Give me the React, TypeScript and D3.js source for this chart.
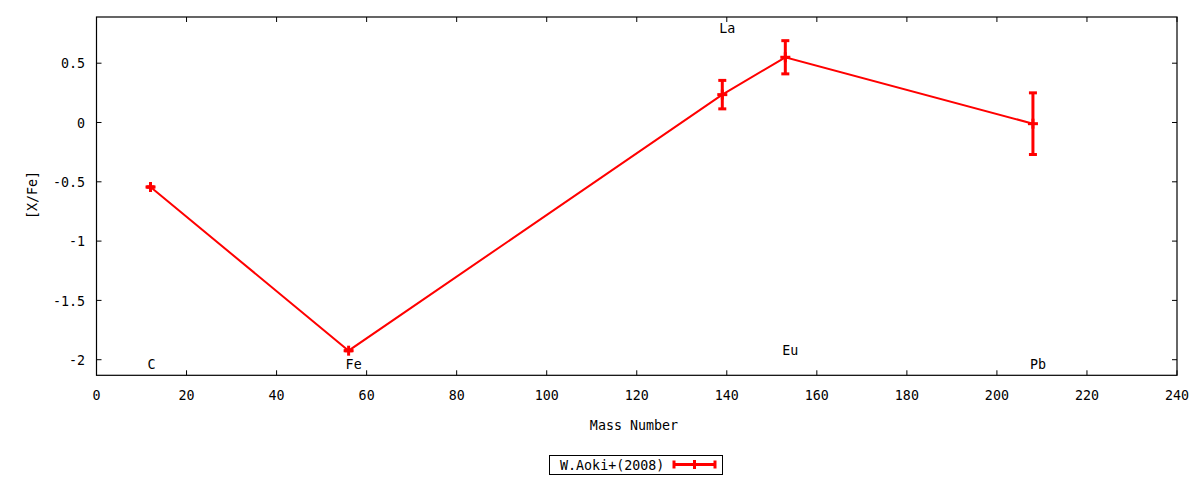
import * as d3 from 'd3';

const masses = [12, 56, 139, 153, 208];
const xfe = [-0.544, -1.924, 0.235, 0.55, -0.01];
const errs = [0, 0, 0.12, 0.14, 0.26];

const elemNames = ['C', 'Fe', 'La', 'Eu', 'Pb'];
const elemLabelY = [-2.035, -2.035, 0.8, -1.92, -2.035];

const xTicks = [0, 20, 40, 60, 80, 100, 120, 140, 160, 180, 200, 220, 240];
const yTicks = [-2, -1.5, -1, -0.5, 0, 0.5];

const seriesName = 'W.Aoki+(2008)';

const FONT = '"DejaVu Sans Mono", monospace';
const RED = '#ff0000';

// gnuplot's mono font is a bit narrower and taller than DejaVu at the same size
function T({ x, y, anchor = 'start', rot = 0, children }: {
  x: number; y: number; anchor?: string; rot?: number; children: React.ReactNode;
}) {
  return (
    <text transform={`translate(${x},${y}) rotate(${rot}) scale(0.92,1)`} textAnchor={anchor} dy="0.36em">
      {children}
    </text>
  );
}

export default function App() {
  const W = 1200, H = 480;
  const m = { left: 96.5, right: 1177, top: 17, bottom: 375.3 };

  const x = d3.scaleLinear().domain([0, 240]).range([m.left, m.right]);
  const y = d3.scaleLinear().domain([-2.1315, 0.8895]).range([m.bottom, m.top]);

  const line = d3.line<number>().x((_, i) => x(masses[i])).y(d => y(d));
  const tick = 5;
  const cap = 4;

  const yFmt = (v: number) => (v === 0 ? '0' : String(v));

  return (
    <svg width={W} height={H} style={{ position: 'absolute', left: 0, top: 0, background: '#fff' }}
      fontFamily={FONT} fontSize={14.5}>
      <rect x={0} y={0} width={W} height={H} fill="#fff" />

      {/* ticks */}
      {xTicks.map(t => (
        <g key={'x' + t}>
          <line x1={x(t)} x2={x(t)} y1={m.bottom} y2={m.bottom - tick} stroke="#000" />
          <line x1={x(t)} x2={x(t)} y1={m.top} y2={m.top + tick} stroke="#000" />
          <T x={x(t)} y={395} anchor="middle">{t}</T>
        </g>
      ))}
      {yTicks.map(t => (
        <g key={'y' + t}>
          <line x1={m.left} x2={m.left + tick} y1={y(t)} y2={y(t)} stroke="#000" />
          <line x1={m.right} x2={m.right - tick} y1={y(t)} y2={y(t)} stroke="#000" />
          <T x={85} y={y(t)} anchor="end">{yFmt(t)}</T>
        </g>
      ))}

      <rect x={m.left} y={m.top} width={m.right - m.left} height={m.bottom - m.top}
        fill="none" stroke="#000" strokeWidth={1.2} />

      {/* axis titles */}
      <T x={634} y={425} anchor="middle">Mass Number</T>
      <T x={32} y={195} anchor="middle" rot={-90}>[X/Fe]</T>

      {/* element labels */}
      {elemNames.map((n, i) => (
        <T key={n} x={x(masses[i]) - 3} y={y(elemLabelY[i])}>{n}</T>
      ))}

      {/* data */}
      <path d={line(xfe) ?? ''} fill="none" stroke={RED} strokeWidth={2} />
      {xfe.map((v, i) => {
        const cx = x(masses[i]);
        const cy = y(v);
        const top = y(v + errs[i]);
        const bot = y(v - errs[i]);
        return (
          <g key={'p' + i} stroke={RED} strokeWidth={3}>
            <line x1={cx} x2={cx} y1={top} y2={bot} />
            <line x1={cx - cap} x2={cx + cap} y1={top} y2={top} />
            <line x1={cx - cap} x2={cx + cap} y1={bot} y2={bot} />
            <line x1={cx - 5} x2={cx + 5} y1={cy} y2={cy} />
            <line x1={cx} x2={cx} y1={cy - 5} y2={cy + 5} />
          </g>
        );
      })}

      {/* legend */}
      <rect x={549.5} y={455.5} width={173} height={19} fill="#fff" stroke="#000" strokeWidth={1} />
      <T x={560} y={465}>{seriesName}</T>
      <g stroke={RED} strokeWidth={3}>
        <line x1={674} x2={715} y1={464.5} y2={464.5} />
        <line x1={674} x2={674} y1={460.5} y2={468.5} />
        <line x1={715} x2={715} y1={460.5} y2={468.5} />
        <line x1={694.5} x2={694.5} y1={460} y2={469} />
      </g>
    </svg>
  );
}
